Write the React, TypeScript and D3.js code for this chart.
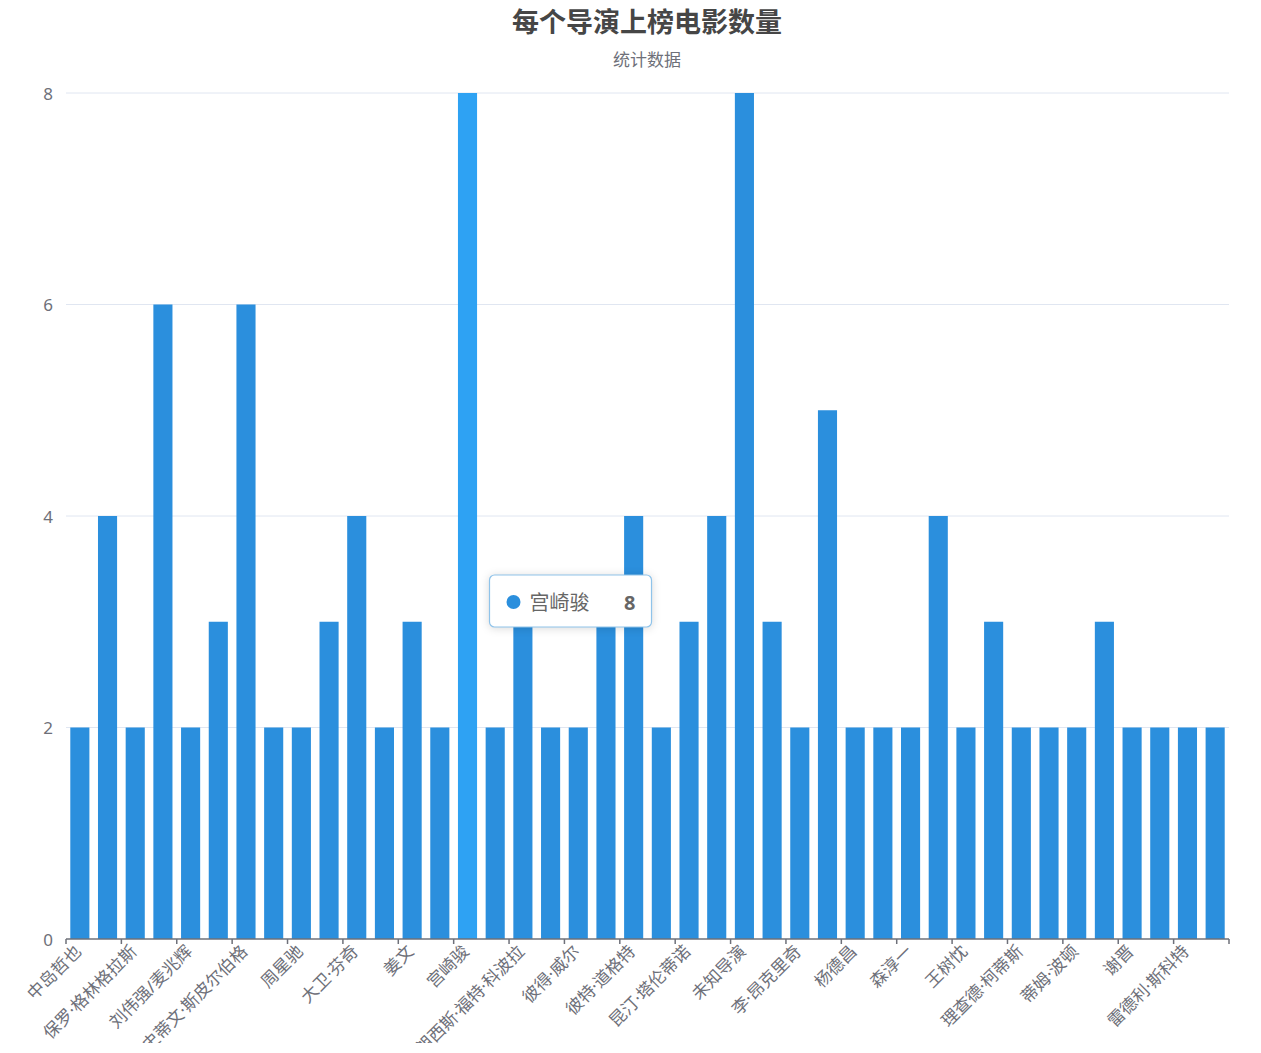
import { useMemo } from 'react';
import * as d3 from 'd3';

// directors sorted by code point, as in the original chart
const directors = [
  '中岛哲也', '伍迪·艾伦', '保罗·格林格拉斯', '克里斯托弗·诺兰', '刘伟强/麦兆辉', '北野武',
  '史蒂文·斯皮尔伯格', '吴宇森', '周星驰', '塞尔乔·莱昂内', '大卫·芬奇', '奉俊昊',
  '姜文', '威廉·惠勒', '宫崎骏', '岩井俊二', '弗朗西斯·福特·科波拉', '张艺谋',
  '彼得·威尔', '彼得·杰克逊', '彼特·道格特', '徐克', '昆汀·塔伦蒂诺', '是枝裕和',
  '未知导演', '朱塞佩·托纳多雷', '李·昂克里奇', '李安', '杨德昌', '格斯·范·桑特',
  '森淳一', '温子仁', '王树忱', '王童', '理查德·柯蒂斯', '罗伯特·泽米吉斯',
  '蒂姆·波顿', '詹姆斯·卡梅隆', '谢晋', '贾樟柯', '雷德利·斯科特', '黑泽明',
];
const counts = [
  2, 4, 2, 6, 2, 3, 6, 2, 2, 3, 4, 2, 3, 2, 8, 2, 3, 2, 2, 3, 4,
  2, 3, 4, 8, 3, 2, 5, 2, 2, 2, 4, 2, 3, 2, 2, 2, 3, 2, 2, 2, 2,
];
const yTicks = [0, 2, 4, 6, 8];
const hovered = '宫崎骏';

const W = 1261;
const H = 1043;
const margin = { top: 93, right: 32, bottom: 104, left: 66 };
// latin font first so the middle dot stays narrow
const FONT = '"Noto Sans", "Noto Sans CJK SC", sans-serif';

export default function App() {
  const x = useMemo(
    () => d3.scaleBand<string>().domain(directors).range([margin.left, W - margin.right]),
    []
  );
  const y = useMemo(
    () => d3.scaleLinear().domain([0, 8]).range([H - margin.bottom, margin.top]),
    []
  );

  const bw = x.bandwidth();
  const barW = bw * 0.69;
  const y0 = y(0);
  // axis ticks on every second band boundary
  const tickXs = d3.range(0, directors.length + 1, 2).map((i) => margin.left + i * bw);

  const hx = (x(hovered) ?? 0) + bw / 2;
  const hv = counts[directors.indexOf(hovered)];

  return (
    <svg
      width={W}
      height={H}
      style={{ position: 'absolute', left: 0, top: 0, display: 'block', background: '#fff' }}
      fontFamily={FONT}
    >
      {/* title */}
      <text x={647} y={32} textAnchor="middle" fontSize={27} fontWeight="bold" fill="#464646">
        每个导演上榜电影数量
      </text>
      <text x={647} y={66} textAnchor="middle" fontSize={17} fill="#6E7079">
        统计数据
      </text>

      {/* grid + y labels */}
      {yTicks.map((t) => (
        <g key={t}>
          {t > 0 && (
            <line x1={margin.left} x2={W - margin.right} y1={y(t)} y2={y(t)} stroke="#E0E6F1" />
          )}
          <text x={53} y={y(t)} textAnchor="end" dominantBaseline="central" fontSize={17} fill="#6E7079">
            {t}
          </text>
        </g>
      ))}

      {/* bars */}
      {directors.map((d, i) => (
        <rect
          key={d}
          x={(x(d) ?? 0) + (bw - barW) / 2}
          y={y(counts[i])}
          width={barW}
          height={y0 - y(counts[i])}
          fill={d === hovered ? '#2ea2f3' : '#2b8fdd'}
        />
      ))}

      {/* x axis */}
      <line x1={margin.left} x2={W - margin.right} y1={y0} y2={y0} stroke="#6E7079" strokeWidth={1.5} />
      {tickXs.map((tx) => (
        <line key={tx} x1={tx} x2={tx} y1={y0} y2={y0 + 5} stroke="#6E7079" strokeWidth={1.5} />
      ))}
      {directors.map((d, i) =>
        i % 2 === 0 ? (
          <text
            key={d}
            transform={`translate(${(x(d) ?? 0) + bw / 2 - 2},${y0 + 9}) rotate(-45)`}
            textAnchor="end"
            dominantBaseline="central"
            fontSize={17}
            fill="#6E7079"
          >
            {d}
          </text>
        ) : null
      )}

      {/* tooltip */}
      <g transform={`translate(${hx + 22},575)`}>
        <rect
          width={162}
          height={52}
          rx={5}
          fill="#fff"
          stroke="#8fc3ea"
          strokeWidth={1.2}
          style={{ filter: 'drop-shadow(0 1px 4px rgba(0,0,0,0.15))' }}
        />
        <circle cx={24} cy={27} r={7} fill="#2b8fdd" />
        <text x={40} y={27} dominantBaseline="central" fontSize={20} fill="#666">
          {hovered}
        </text>
        <text x={146} y={27} textAnchor="end" dominantBaseline="central" fontSize={20} fontWeight="bold" fill="#666">
          {hv}
        </text>
      </g>
    </svg>
  );
}
